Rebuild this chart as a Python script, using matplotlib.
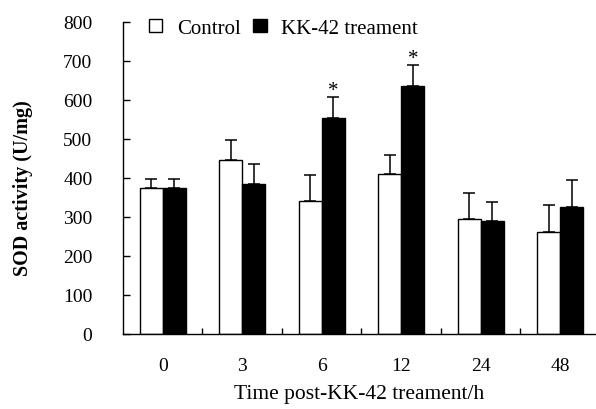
import matplotlib.pyplot as plt
import numpy as np
from matplotlib.patches import Patch

plt.rcParams['font.family'] = ['Liberation Serif', 'DejaVu Serif']

times = ['0', '3', '6', '12', '24', '48']
control = [373, 445, 341, 409, 293, 261]
control_err = [23, 52, 65, 49, 68, 68]
kk42 = [373, 384, 552, 634, 289, 325]
kk42_err = [23, 51, 55, 55, 49, 68]
signif = [False, False, True, True, False, False]

fig = plt.figure(figsize=(5.96, 4.10), dpi=100)
ax = fig.add_axes([123 / 596, 75.3 / 410, 1 - 123 / 596, 312.1 / 410])

x = np.arange(len(times))
w = 0.29
ebar = dict(ecolor='black', elinewidth=1.1, capsize=4, capthick=1.1)
ax.bar(x - w / 2, control, w, color='white', edgecolor='black', linewidth=1,
       yerr=[np.zeros(len(x)), control_err], error_kw=ebar, label='Control')
ax.bar(x + w / 2, kk42, w, color='black', edgecolor='black', linewidth=1,
       yerr=[np.zeros(len(x)), kk42_err], error_kw=ebar, label='KK-42 treament')

for i in range(len(x)):
    if signif[i]:
        ax.annotate('*', (x[i] + w / 2, kk42[i] + kk42_err[i]), xytext=(0, -2),
                    textcoords='offset points', ha='center', va='bottom', fontsize=15)

ax.set_xlim(-0.5, 5.45)
ax.set_ylim(0, 800)
ax.set_yticks(np.arange(0, 801, 100))
ax.set_xticks(x)
ax.set_xticklabels(times)
ax.set_xticks(np.arange(0.5, 5, 1), minor=True)
ax.tick_params(axis='x', which='major', length=0, pad=17, labelsize=14)
ax.tick_params(axis='x', which='minor', direction='in', length=4, width=1)
ax.tick_params(axis='y', direction='in', length=5, width=1, pad=22, labelsize=14)

ax.spines['top'].set_visible(False)
ax.spines['right'].set_visible(False)
ax.spines['left'].set_linewidth(1)
ax.spines['bottom'].set_linewidth(1)

ax.set_ylabel('SOD activity (U/mg)', fontsize=14.5, fontweight='bold')
ax.yaxis.set_label_coords(-0.19, 0.47)
ax.set_xlabel('Time post-KK-42 treament/h', fontsize=15.5, labelpad=7)

handles = [Patch(facecolor='white', edgecolor='black', linewidth=1),
           Patch(facecolor='black', edgecolor='black', linewidth=1)]
ax.legend(handles, ['Control', 'KK-42 treament'], ncol=2, frameon=False,
          loc='upper left', bbox_to_anchor=(0.015, 1.07), fontsize=15,
          handlelength=0.65, handleheight=0.65, handletextpad=0.7, columnspacing=0.6)

plt.savefig('out.png', dpi=100)
